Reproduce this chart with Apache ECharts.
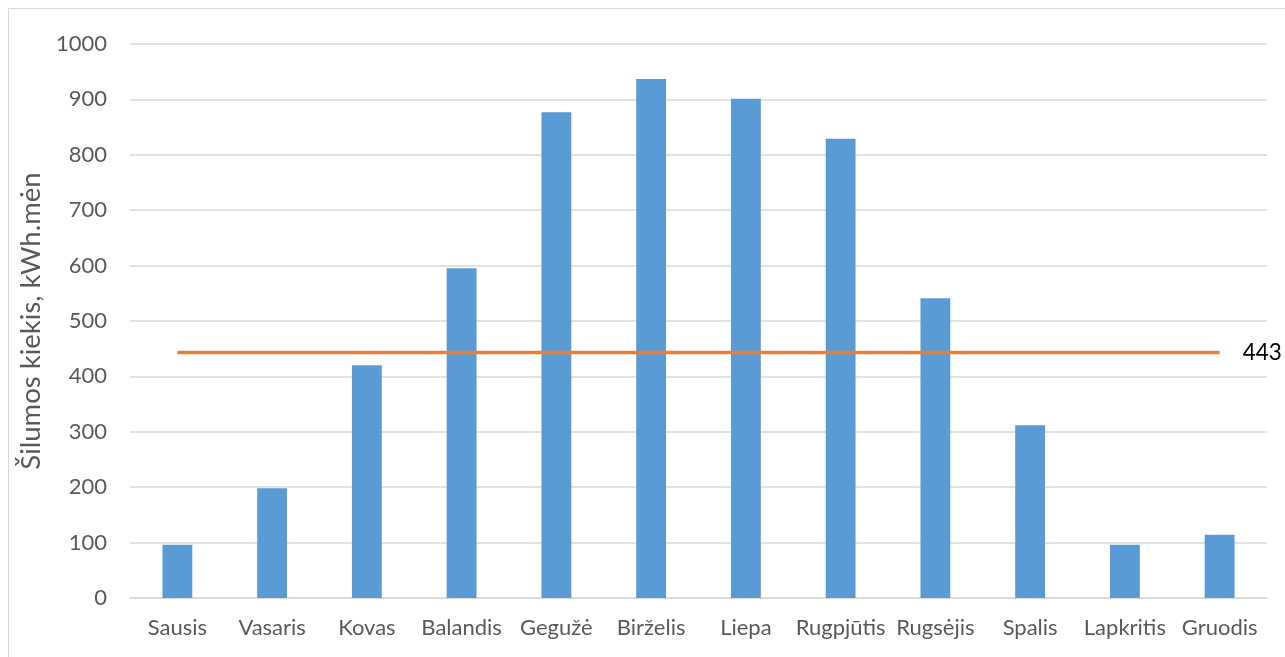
<!DOCTYPE html>
<html>
<head>
<meta charset="utf-8">
<script src="https://cdn.jsdelivr.net/npm/echarts@6/dist/echarts.min.js"></script>
<style>
  html, body { margin: 0; padding: 0; background: #ffffff; }
  #chart { width: 1285px; height: 657px; }
</style>
</head>
<body>
<div id="chart"></div>
<script>
// Monthly heat output, kWh per month
const months = ['Sausis', 'Vasaris', 'Kovas', 'Balandis', 'Gegužė', 'Birželis',
                'Liepa', 'Rugpjūtis', 'Rugsėjis', 'Spalis', 'Lapkritis', 'Gruodis'];
const heatValues = [96, 198, 420, 595, 877, 937, 901, 829, 541, 312, 96, 114];
// Monthly average, shown as a flat line across the year
const averageValue = 443;
const averageLine = months.map(() => averageValue);
const yTicks = { min: 0, max: 1000, interval: 100 };

const fontFamily = 'Lato, "Open Sans", sans-serif';

const chart = echarts.init(document.getElementById('chart'), null, { renderer: 'canvas' });
chart.setOption({
  backgroundColor: '#ffffff',
  animation: false,
  graphic: [{
    type: 'rect',
    shape: { x: 8.5, y: 8.5, width: 1300, height: 700 },
    style: { fill: 'none', stroke: '#d9d9d9', lineWidth: 1 },
    silent: true,
    z: -1
  }],
  grid: { left: 130, right: 18, top: 44, bottom: 59 },
  xAxis: {
    type: 'category',
    data: months,
    axisLine: { show: true, lineStyle: { color: '#d9d9d9', width: 1.5 } },
    axisTick: { show: false },
    axisLabel: { color: '#595959', fontSize: 22, fontFamily, margin: 19, interval: 0 }
  },
  yAxis: {
    type: 'value',
    min: yTicks.min,
    max: yTicks.max,
    interval: yTicks.interval,
    name: 'Šilumos kiekis, kWh.mėn',
    nameLocation: 'middle',
    nameGap: 78,
    nameRotate: 90,
    nameTextStyle: { color: '#595959', fontSize: 27.5, fontFamily },
    axisLine: { show: false },
    axisTick: { show: false },
    axisLabel: {
      color: '#595959', fontSize: 22, fontFamily, margin: 23,
      formatter: (v) => String(v)
    },
    splitLine: { lineStyle: { color: '#d9d9d9', width: 1.5 } }
  },
  series: [
    {
      name: 'Šilumos kiekis',
      type: 'bar',
      data: heatValues,
      barWidth: '31.5%',
      itemStyle: { color: '#5b9bd5' },
      z: 2
    },
    {
      name: 'Vidurkis',
      type: 'line',
      data: averageLine,
      symbol: 'none',
      lineStyle: { color: '#ed7d31', width: 3.5 },
      endLabel: {
        show: true,
        formatter: () => String(averageValue),
        color: '#000000',
        fontSize: 22.5,
        fontFamily,
        distance: 23
      },
      z: 3
    }
  ]
});
</script>
</body>
</html>
